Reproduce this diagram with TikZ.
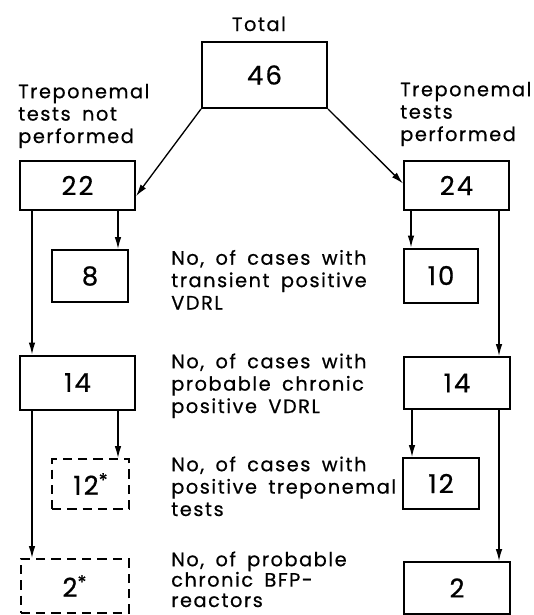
\documentclass[tikz,border=0pt]{standalone}
\usepackage{fontspec}
\setmainfont{Poppins}
\newfontfamily\txtFont{Poppins}[LetterSpace=8,WordSpace=1.7,FakeBold=0.6]
\usetikzlibrary{arrows.meta}

\newcommand*{\lblSize}{\txtFont\fontsize{14.5}{16.8}\selectfont}
\newcommand*{\numSize}{\txtFont\fontsize{19.5}{21}\selectfont}
\newcommand*{\starMark}{\raisebox{0.3em}{\fontsize{14}{14}\selectfont*}}

\begin{document}
\begin{tikzpicture}[x=0.75pt,y=-0.75pt,
	boxsize/.style 2 args={minimum width=#1*0.75pt,minimum height=#2*0.75pt},
	numbox/.style={draw,line width=1.5pt,inner sep=0pt,font=\numSize},
	dashbox/.style={numbox,dash pattern=on 7pt off 4.5pt},
	lbl/.style={inner sep=0pt,align=left,anchor=base west,font=\lblSize},
	arr/.style={-{Latex[length=9pt,width=5pt]},line width=1pt}]

	\useasboundingbox (0,0) rectangle (534,615);

	% headings (base = last line)
	\node[lbl,anchor=base] (total) at (259,31) {Total};
	\node[lbl] (notdone) at (18,143) {Treponemal\\tests not\\performed};
	\node[lbl] (done) at (400,141) {Treponemal\\tests\\performed};

	% boxes
	\node[numbox,boxsize={125}{66}] (tot) at (264.5,75) {46};
	\node[numbox,boxsize={115}{49}] (l22) at (77.5,185.5) {22};
	\node[numbox,boxsize={105}{49}] (r24) at (456.5,185.5) {24};
	\node[numbox,boxsize={76}{52}] (l8) at (90,276) {8};
	\node[numbox,boxsize={74}{54}] (r10) at (441,275.5) {10};
	\node[numbox,boxsize={115}{54}] (l14) at (77.5,382.5) {14};
	\node[numbox,boxsize={106}{52}] (r14) at (457,383) {14};
	\node[dashbox,boxsize={77}{50}] (l12) at (90.5,484) {12\starMark};
	\node[numbox,boxsize={76}{51}] (r12) at (441,483.5) {12};
	\node[dashbox,boxsize={108}{54}] (l2) at (74.5,586) {2\starMark};
	\node[numbox,boxsize={106}{52}] (r2) at (457,588) {2};

	% row texts (base = last line)
	\node[lbl] (txtA) at (171,309.5) {No, of cases with\\transient positive\\VDRL};
	\node[lbl] (txtB) at (171,413) {No, of cases with\\probable chronic\\positive VDRL};
	\node[lbl] (txtC) at (171,516) {No, of cases with\\positive treponemal\\tests};
	\node[lbl] (txtD) at (171,607) {No, of probable\\[-1.5pt]chronic BFP-\\[-1.5pt]reactors};

	% split of the total
	\draw[arr] (tot.south west) -- ([yshift=-8pt]l22.east);
	\draw[arr] (tot.south east) -- ([yshift=1.5pt]r24.west);

	% left column
	\draw[arr] ([xshift=-13.5pt]l22.south east) -- ([xshift=-13.5pt]l22.south east |- l8.north);
	\draw[arr] ([xshift=9.75pt]l22.south west) -- ([xshift=9.75pt]l22.south west |- l14.north);
	\draw[arr] ([xshift=-13.5pt]l14.south east) -- ([xshift=-13.5pt]l14.south east |- l12.north);
	\draw[arr] ([xshift=9.75pt]l14.south west) -- ([xshift=9.75pt]l14.south west |- l2.north);

	% right column
	\draw[arr] ([xshift=6pt]r24.south west) -- ([xshift=6pt]r24.south west |- r10.north);
	\draw[arr] ([xshift=-8.25pt]r24.south east) -- ([xshift=-8.25pt]r24.south east |- r14.north);
	\draw[arr] ([xshift=6.75pt]r14.south west) -- ([xshift=6.75pt]r14.south west |- r12.north);
	\draw[arr] ([xshift=-9pt]r14.south east) -- ([xshift=-9pt]r14.south east |- r2.north);

\end{tikzpicture}
\end{document}
